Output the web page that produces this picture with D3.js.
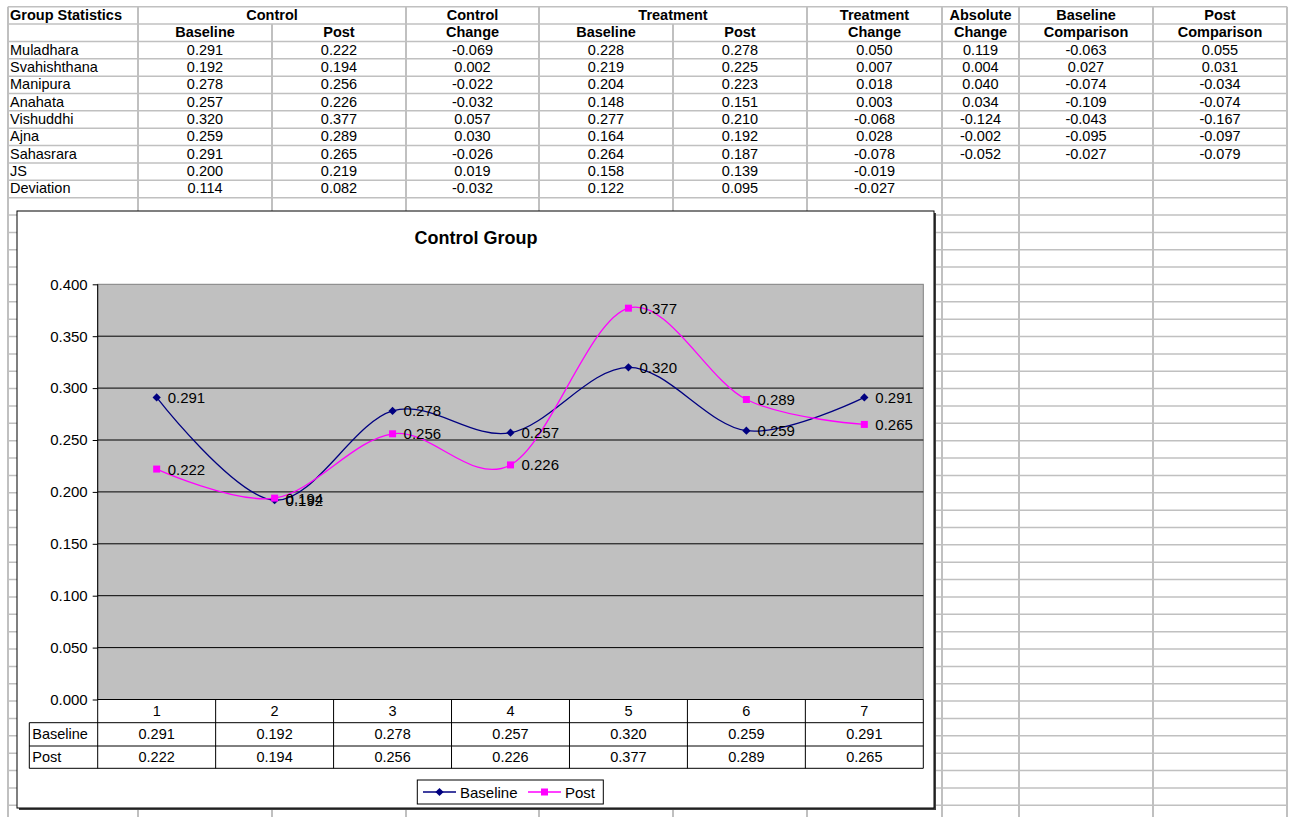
<!DOCTYPE html>
<html>
<head>
<meta charset="utf-8">
<script src="https://cdn.jsdelivr.net/npm/d3@7/dist/d3.min.js"></script>
<style>
  html, body { margin: 0; padding: 0; background: #fff; }
  svg { display: block; font-family: Arial, "Liberation Sans", sans-serif; }
</style>
</head>
<body>
<script>
// ---- Worksheet data ----
const rowLabels = ["Muladhara", "Svahishthana", "Manipura", "Anahata", "Vishuddhi", "Ajna", "Sahasrara", "JS", "Deviation"];
const headerTop = ["Group Statistics", "Control", null, "Control", "Treatment", null, "Treatment", "Absolute", "Baseline", "Post"];
const headerSub = ["", "Baseline", "Post", "Change", "Baseline", "Post", "Change", "Change", "Comparison", "Comparison"];

const controlBaseline   = [0.291, 0.192, 0.278, 0.257, 0.320, 0.259, 0.291, 0.200, 0.114];
const controlPost       = [0.222, 0.194, 0.256, 0.226, 0.377, 0.289, 0.265, 0.219, 0.082];
const controlChange     = [-0.069, 0.002, -0.022, -0.032, 0.057, 0.030, -0.026, 0.019, -0.032];
const treatmentBaseline = [0.228, 0.219, 0.204, 0.148, 0.277, 0.164, 0.264, 0.158, 0.122];
const treatmentPost     = [0.278, 0.225, 0.223, 0.151, 0.210, 0.192, 0.187, 0.139, 0.095];
const treatmentChange   = [0.050, 0.007, 0.018, 0.003, -0.068, 0.028, -0.078, -0.019, -0.027];
const absoluteChange    = [0.119, 0.004, 0.040, 0.034, -0.124, -0.002, -0.052];
const baselineComparison= [-0.063, 0.027, -0.074, -0.109, -0.043, -0.095, -0.027];
const postComparison    = [0.055, 0.031, -0.034, -0.074, -0.167, -0.097, -0.079];

// ---- Chart data ----
const chartTitle = "Control Group";
const categories = [1, 2, 3, 4, 5, 6, 7];
const baselineSeries = [0.291, 0.192, 0.278, 0.257, 0.320, 0.259, 0.291];
const postSeries     = [0.222, 0.194, 0.256, 0.226, 0.377, 0.289, 0.265];
const yTicks = [0, 0.05, 0.10, 0.15, 0.20, 0.25, 0.30, 0.35, 0.40];

const locale = d3.formatLocale({decimal: ".", thousands: ",", grouping: [3], currency: ["", ""], minus: "-"});
const fmt = locale.format(".3f");

const W = 1292, H = 817;
const svg = d3.select("body").append("svg").attr("width", W).attr("height", H);

// ---- Spreadsheet grid ----
const colEdges = [8, 138, 272, 406, 539, 673, 807, 942, 1019, 1153, 1287];
const rowTop = 6.7, rowH = 17.36, rowCount = 47;
const rowY = i => rowTop + i * rowH;
const gridColor = "#c0c0c0";

const grid = svg.append("g");
d3.range(rowCount + 1).forEach(i => {
  grid.append("line").attr("x1", colEdges[0]).attr("x2", colEdges[colEdges.length - 1])
    .attr("y1", rowY(i)).attr("y2", rowY(i))
    .attr("stroke", gridColor).attr("stroke-width", 1.5);
});
colEdges.forEach(x => {
  // merged header cells above the "Control" and "Treatment" pairs
  const startY = (x === 272 || x === 673) ? rowY(1) : rowY(0);
  grid.append("line").attr("x1", x).attr("x2", x).attr("y1", startY).attr("y2", H)
    .attr("stroke", gridColor).attr("stroke-width", 2);
});

const colCenter = j => (colEdges[j] + colEdges[j + 1]) / 2;
const cellText = svg.append("g").attr("font-size", 14.5).attr("fill", "#000");

function putText(txt, x, row, anchor, bold) {
  cellText.append("text")
    .attr("x", x).attr("y", rowY(row) + rowH / 2 - 0.5)
    .attr("dominant-baseline", "central")
    .attr("text-anchor", anchor)
    .attr("font-weight", bold ? "bold" : "normal")
    .text(txt);
}

// header rows
headerTop.forEach((h, j) => {
  if (h === null) return;
  if (j === 0) { putText(h, 10, 0, "start", true); return; }
  const spans = (j === 1 || j === 4);
  const cx = spans ? (colEdges[j] + colEdges[j + 2]) / 2 : colCenter(j);
  putText(h, cx, 0, "middle", true);
});
headerSub.forEach((h, j) => { if (h) putText(h, colCenter(j), 1, "middle", true); });

// body rows
const columns = [controlBaseline, controlPost, controlChange, treatmentBaseline, treatmentPost,
                 treatmentChange, absoluteChange, baselineComparison, postComparison];
rowLabels.forEach((lab, i) => {
  putText(lab, 10, i + 2, "start", false);
  columns.forEach((col, c) => {
    if (i < col.length) putText(fmt(col[i]), colCenter(c + 1), i + 2, "middle", false);
  });
});

// ---- Embedded chart ----
const frame = {x: 17, y: 211, w: 917, h: 597};
const chart = svg.append("g");
chart.append("rect").attr("x", frame.x + 2).attr("y", frame.y + 2).attr("width", frame.w).attr("height", frame.h)
  .attr("fill", "#404040");
chart.append("rect").attr("x", frame.x).attr("y", frame.y).attr("width", frame.w).attr("height", frame.h)
  .attr("fill", "#fff").attr("stroke", "#000").attr("stroke-width", 1);

chart.append("text").attr("x", 476).attr("y", 238).attr("text-anchor", "middle")
  .attr("dominant-baseline", "central").attr("font-size", 18).attr("font-weight", "bold")
  .text(chartTitle);

const plot = {left: 97.7, right: 923.3, top: 284.3, bottom: 699.5};
const x = d3.scaleBand().domain(categories).range([plot.left, plot.right]);
const y = d3.scaleLinear().domain([0, 0.4]).range([plot.bottom, plot.top]);
const cx = c => x(c) + x.bandwidth() / 2;

chart.append("rect").attr("x", plot.left).attr("y", plot.top)
  .attr("width", plot.right - plot.left).attr("height", plot.bottom - plot.top)
  .attr("fill", "#c0c0c0").attr("stroke", "#808080").attr("stroke-width", 1);

// horizontal gridlines
chart.append("g").selectAll("line").data(yTicks.filter(t => t > 0 && t < 0.4)).join("line")
  .attr("x1", plot.left).attr("x2", plot.right)
  .attr("y1", d => y(d)).attr("y2", d => y(d))
  .attr("stroke", "#000").attr("stroke-width", 1);

// value axis
const yAxis = d3.axisLeft(y).tickValues(yTicks).tickFormat(fmt).tickSize(5).tickPadding(5);
const ya = chart.append("g").attr("transform", `translate(${plot.left},0)`).call(yAxis);
ya.select(".domain").remove();
ya.selectAll(".tick line").attr("stroke", "#000");
ya.selectAll(".tick text").attr("font-size", 15).attr("font-family", "Arial, 'Liberation Sans', sans-serif").attr("fill", "#000");

// data table under the plot
const tableRows = [
  {label: "Baseline", values: baselineSeries},
  {label: "Post", values: postSeries}
];
const tblTop = plot.bottom, tblRowH = [23.2, 23.3, 22.3];
const tblLeft = 29.3;
const rowEdges = [tblTop];
tblRowH.forEach(h => rowEdges.push(rowEdges[rowEdges.length - 1] + h));
const tbl = chart.append("g");
// horizontal rules
tbl.append("line").attr("x1", plot.left).attr("x2", plot.right).attr("y1", rowEdges[0]).attr("y2", rowEdges[0]).attr("stroke", "#000");
[1, 2, 3].forEach(k => tbl.append("line").attr("x1", tblLeft).attr("x2", plot.right)
  .attr("y1", rowEdges[k]).attr("y2", rowEdges[k]).attr("stroke", "#000"));
// vertical rules
tbl.append("line").attr("x1", tblLeft).attr("x2", tblLeft).attr("y1", rowEdges[1]).attr("y2", rowEdges[3]).attr("stroke", "#000");
tbl.append("line").attr("x1", plot.left).attr("x2", plot.left).attr("y1", plot.top).attr("y2", rowEdges[3]).attr("stroke", "#000");
categories.forEach(c => {
  const xr = x(c) + x.bandwidth();
  tbl.append("line").attr("x1", xr).attr("x2", xr).attr("y1", rowEdges[0]).attr("y2", rowEdges[3]).attr("stroke", "#000");
});
const tblText = tbl.append("g").attr("font-size", 14.5).attr("fill", "#000");
categories.forEach(c => tblText.append("text").attr("x", cx(c)).attr("y", (rowEdges[0] + rowEdges[1]) / 2)
  .attr("text-anchor", "middle").attr("dominant-baseline", "central").text(c));
tableRows.forEach((r, k) => {
  const ym = (rowEdges[k + 1] + rowEdges[k + 2]) / 2;
  tblText.append("text").attr("x", tblLeft + 3).attr("y", ym).attr("dominant-baseline", "central").text(r.label);
  r.values.forEach((v, i) => tblText.append("text").attr("x", cx(categories[i])).attr("y", ym)
    .attr("text-anchor", "middle").attr("dominant-baseline", "central").text(fmt(v)));
});

// series lines, markers and labels
const series = [
  {name: "Baseline", values: baselineSeries, color: "#000080", marker: "diamond"},
  {name: "Post", values: postSeries, color: "#ff00ff", marker: "square"}
];
const line = d3.line().x((d, i) => cx(categories[i])).y(d => y(d)).curve(d3.curveCardinal.tension(0));
const symDiamond = d3.symbol().type(d3.symbolSquare).size(34);
const symSquare = d3.symbol().type(d3.symbolSquare).size(49);

series.forEach(s => {
  chart.append("path").datum(s.values).attr("d", line).attr("fill", "none")
    .attr("stroke", s.color).attr("stroke-width", 1.3);
});
series.forEach(s => {
  const g = chart.append("g");
  s.values.forEach((v, i) => {
    const px = cx(categories[i]), py = y(v);
    g.append("path")
      .attr("d", s.marker === "diamond" ? symDiamond() : symSquare())
      .attr("transform", `translate(${px},${py})` + (s.marker === "diamond" ? " rotate(45)" : ""))
      .attr("fill", s.color);
  });
});
series.forEach(s => {
  const g = chart.append("g").attr("font-size", 15).attr("fill", "#000");
  s.values.forEach((v, i) => {
    g.append("text").attr("x", cx(categories[i]) + 11).attr("y", y(v))
      .attr("dominant-baseline", "central").text(fmt(v));
  });
});

// legend
const lg = chart.append("g");
lg.append("rect").attr("x", 417.3).attr("y", 780).attr("width", 186).attr("height", 24)
  .attr("fill", "#fff").attr("stroke", "#000");
const legendItems = [
  {s: series[0], x0: 423, textX: 460},
  {s: series[1], x0: 528, textX: 565}
];
legendItems.forEach(it => {
  const ly = 792;
  lg.append("line").attr("x1", it.x0).attr("x2", it.x0 + 33).attr("y1", ly).attr("y2", ly)
    .attr("stroke", it.s.color).attr("stroke-width", 1.3);
  lg.append("path")
    .attr("d", it.s.marker === "diamond" ? symDiamond() : symSquare())
    .attr("transform", `translate(${it.x0 + 16.5},${ly})` + (it.s.marker === "diamond" ? " rotate(45)" : ""))
    .attr("fill", it.s.color);
  lg.append("text").attr("x", it.textX).attr("y", ly).attr("dominant-baseline", "central")
    .attr("font-size", 15).text(it.s.name);
});
</script>
</body>
</html>
